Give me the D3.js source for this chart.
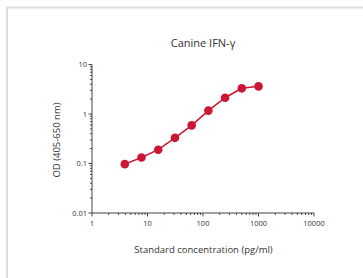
<!DOCTYPE html>
<head>
<meta charset="utf-8">
<title>Canine IFN-gamma</title>
<style>
  body { margin: 0; background: #fff; }
  text { font-family: "Open Sans", "DejaVu Sans", sans-serif; fill: #333; }
</style>
</head>
<body>
<script src="https://d3js.org/d3.v7.min.js"></script>
<script>
// standard curve, two-fold dilutions
let concentrations = [3.9, 7.8, 15.6, 31.25, 62.5, 125, 250, 500, 1000];
let odValues = [0.097, 0.132, 0.19, 0.33, 0.59, 1.17, 2.13, 3.3, 3.62];
let xTicks = [1, 10, 100, 1000, 10000];
let yTicks = [0.01, 0.1, 1, 10];

let width = 363;
let height = 278;

let svg = d3.select("body").append("svg")
    .attr("width", width)
    .attr("height", height);

// light frame round the panel
svg.append("path")
    .attr("d", `M7,${height} V7.5 H${width}`)
    .attr("fill", "none")
    .attr("stroke", "#ddd")
    .attr("stroke-width", 2);

let x = d3.scaleLog().domain([1, 10000]).range([92, 314]);
let y = d3.scaleLog().domain([0.01, 10]).range([213, 64.5]);

// minor ticks
let xMinor = [];
for (let d = 1; d < 10000; d *= 10) for (let k = 2; k <= 9; k++) xMinor.push(d * k);
let yMinor = [];
for (let d = 0.01; d < 9; d *= 10) for (let k = 2; k <= 9; k++) yMinor.push(d * k);

let axisColor = "#444";

// x axis
let xAxis = svg.append("g").attr("transform", `translate(0,${y.range()[0]})`);
xAxis.append("line")
    .attr("x1", x.range()[0]).attr("x2", x.range()[1])
    .attr("stroke", axisColor);
xAxis.selectAll(".minor").data(xMinor).join("line")
    .attr("x1", d => x(d)).attr("x2", d => x(d))
    .attr("y1", 0).attr("y2", 2)
    .attr("stroke", axisColor);
xAxis.selectAll(".major").data(xTicks).join("line")
    .attr("x1", d => x(d)).attr("x2", d => x(d))
    .attr("y1", 0).attr("y2", 3.5)
    .attr("stroke", axisColor);
xAxis.selectAll("text").data(xTicks).join("text")
    .attr("x", d => x(d)).attr("y", 13)
    .attr("text-anchor", "middle")
    .style("font-size", "7.5px")
    .text(d => d);

// y axis
let yAxis = svg.append("g").attr("transform", `translate(${x.range()[0]},0)`);
yAxis.append("line")
    .attr("y1", y.range()[0]).attr("y2", y.range()[1])
    .attr("stroke", axisColor);
yAxis.selectAll(".minor").data(yMinor).join("line")
    .attr("y1", d => y(d)).attr("y2", d => y(d))
    .attr("x1", 0).attr("x2", -2)
    .attr("stroke", axisColor);
yAxis.selectAll(".major").data(yTicks).join("line")
    .attr("y1", d => y(d)).attr("y2", d => y(d))
    .attr("x1", 0).attr("x2", -3.5)
    .attr("stroke", axisColor);
yAxis.selectAll("text").data(yTicks).join("text")
    .attr("x", -5).attr("y", d => y(d))
    .attr("dy", "0.35em")
    .attr("text-anchor", "end")
    .style("font-size", "7.5px")
    .text(d => d);

// title and axis labels
svg.append("text")
    .attr("x", 203).attr("y", 47)
    .attr("text-anchor", "middle")
    .style("font-size", "11px")
    .text("Canine IFN-γ");

svg.append("text")
    .attr("x", 203.5).attr("y", 253)
    .attr("text-anchor", "middle")
    .style("font-size", "9.5px")
    .text("Standard concentration (pg/ml)");

svg.append("text")
    .attr("transform", "translate(60,140) rotate(-90)")
    .attr("text-anchor", "middle")
    .style("font-size", "9.5px")
    .text("OD (405-650 nm)");

// curve and points
let red = "#cc1633";
let points = concentrations.map((c, i) => ({ c: c, od: odValues[i] }));

svg.append("path")
    .datum(points)
    .attr("d", d3.line().x(d => x(d.c)).y(d => y(d.od)))
    .attr("fill", "none")
    .attr("stroke", red)
    .attr("stroke-width", 1.5);

svg.selectAll(".dot").data(points).join("circle")
    .attr("class", "dot")
    .attr("cx", d => x(d.c))
    .attr("cy", d => y(d.od))
    .attr("r", 4.3)
    .attr("fill", red);
</script>
</body>
